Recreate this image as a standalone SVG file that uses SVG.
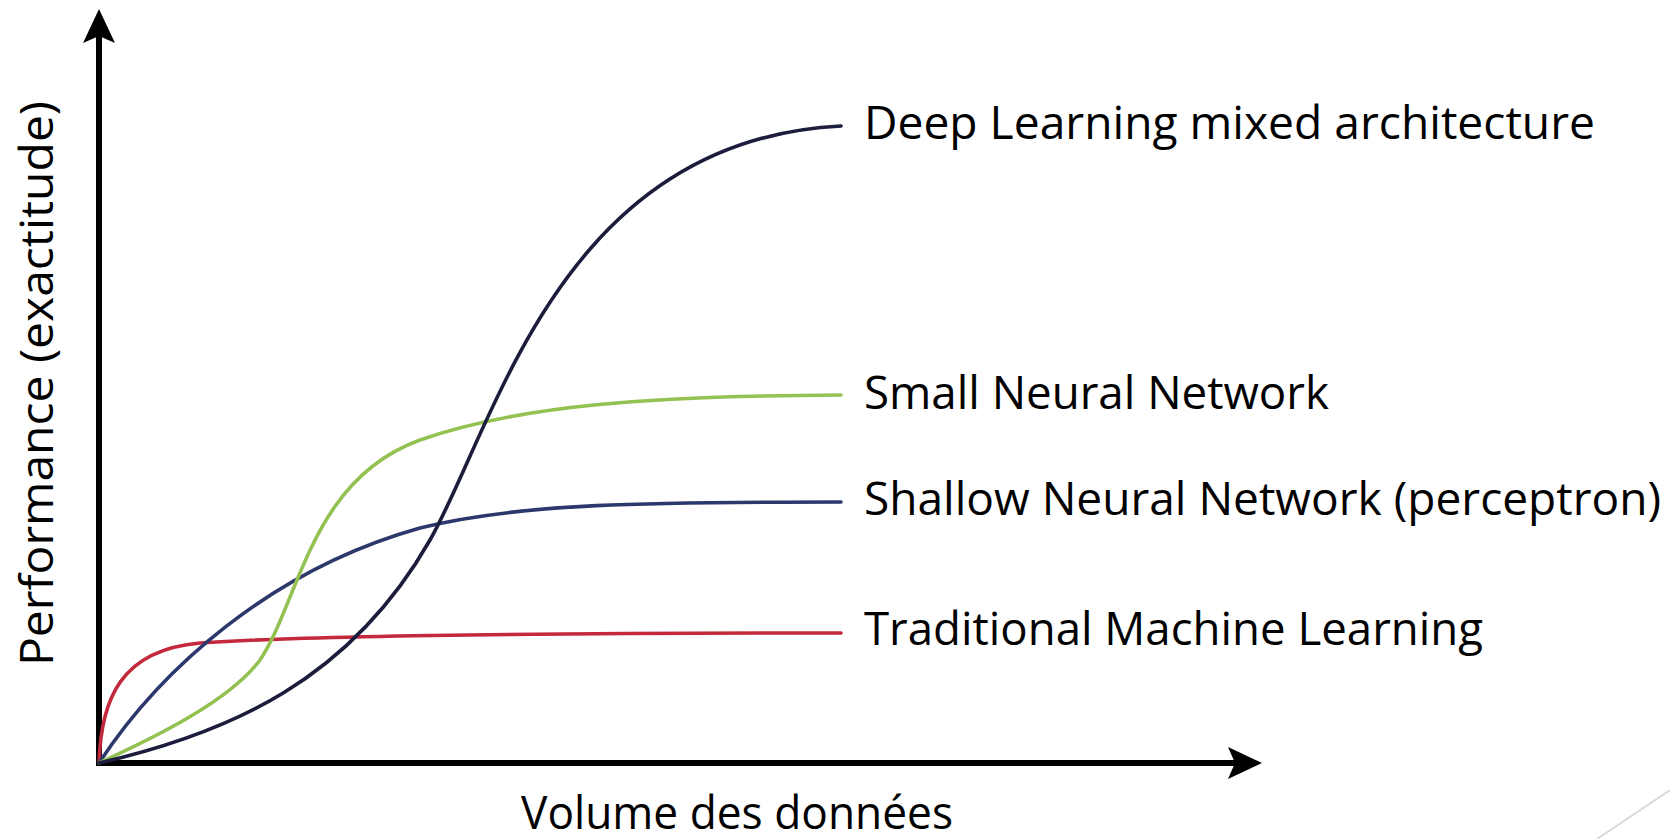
<svg xmlns="http://www.w3.org/2000/svg" width="1670" height="839" viewBox="0 0 1670 839">
  <style>
    .axis { stroke: #000; stroke-width: 6; fill: none; }
    .curve { fill: none; stroke-width: 3.6; stroke-linecap: round; }
    .lbl { font-family: "Open Sans", "DejaVu Sans", sans-serif; font-size: 46px; fill: #000; }
  </style>
  <defs>
    <marker id="arrow" viewBox="0 0 34 32" refX="14" refY="16" markerWidth="34" markerHeight="32" markerUnits="userSpaceOnUse" orient="auto">
      <path d="M0,0 L34,16 L0,32 L7,16 Z" fill="#000"/>
    </marker>
  </defs>
  <rect width="1670" height="839" fill="#fff"/>

  <!-- axes -->
  <g id="axes">
    <line class="axis" x1="99" y1="766" x2="99" y2="29" marker-end="url(#arrow)"/>
    <line class="axis" x1="96" y1="763" x2="1242" y2="763" marker-end="url(#arrow)"/>
  </g>

  <!-- performance curves -->
  <g id="connectors">
    <path id="c-traditional" class="curve" stroke="#c3283c" d="M99,763 C101,700 120,650 200,643 C300,636 500,633 841,633"/>
    <path id="c-shallow" class="curve" stroke="#2c376c" d="M99,763 C160,670 270,570 420,528 C520,503 650,502 841,502"/>
    <path id="c-small" class="curve" stroke="#93c152" d="M99,763 C160,735 230,700 260,660 C300,600 310,480 420,440 C520,405 650,396 841,395"/>
    <path id="c-deep" class="curve" stroke="#1c1c3c" d="M99,763 C230,733 350,680 430,540 C495,426 560,140 841,126"/>
  </g>

  <!-- curve labels -->
  <g id="label-deep"><text class="lbl" x="864" y="139" textLength="731" lengthAdjust="spacingAndGlyphs">Deep Learning mixed architecture</text></g>
  <g id="label-small"><text class="lbl" x="864" y="409" textLength="465" lengthAdjust="spacingAndGlyphs">Small Neural Network</text></g>
  <g id="label-shallow"><text class="lbl" x="864" y="515" textLength="797" lengthAdjust="spacingAndGlyphs">Shallow Neural Network (perceptron)</text></g>
  <g id="label-traditional"><text class="lbl" x="864" y="645" textLength="619" lengthAdjust="spacingAndGlyphs">Traditional Machine Learning</text></g>

  <!-- axis titles -->
  <g id="title-y"><text class="lbl" transform="translate(53,666) rotate(-90)" x="0" y="0" textLength="565" lengthAdjust="spacingAndGlyphs">Performance (exactitude)</text></g>
  <g id="title-x"><text class="lbl" x="521" y="829" textLength="432" lengthAdjust="spacingAndGlyphs">Volume des données</text></g>

  <!-- slide corner accent -->
  <line x1="1597" y1="839" x2="1670" y2="790" stroke="#d9d9d9" stroke-width="2"/>
</svg>
